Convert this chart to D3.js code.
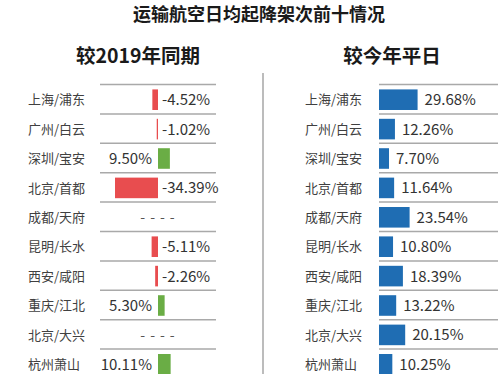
<!DOCTYPE html>
<html lang="zh">
<head>
<meta charset="utf-8">
<script src="https://d3js.org/d3.v7.min.js"></script>
<style>
  body { margin: 0; background: #fff; }
  text { font-family: "Noto Sans CJK SC", "Noto Sans", sans-serif; }
</style>
</head>
<body>
<script>
// data
var airports = ["上海/浦东", "广州/白云", "深圳/宝安", "北京/首都", "成都/天府",
                "昆明/长水", "西安/咸阳", "重庆/江北", "北京/大兴", "杭州萧山"];
var vs2019 = [-4.52, -1.02, 9.50, -34.39, null, -5.11, -2.26, 5.30, null, 10.11];
var vsAvg = [29.68, 12.26, 7.70, 11.64, 23.54, 10.80, 18.39, 13.22, 20.15, 10.25];

var title = "运输航空日均起降架次前十情况";
var leftTitle = "较2019年同期";
var rightTitle = "较今年平日";

var W = 500, H = 374;
var svg = d3.select("body").append("svg")
    .attr("width", W)
    .attr("height", H);

// rows
var y = d3.scaleBand()
    .domain(airports)
    .range([85, 85 + 29.4 * airports.length])
    .paddingInner(0.3)
    .paddingOuter(0.15);
var rowStep = y.step();
function rowTop(d) { return y(d) - y.paddingInner() * rowStep / 2 - 0.5; }

// titles
svg.append("text")
    .attr("x", 259).attr("y", 21)
    .attr("text-anchor", "middle")
    .style("font-size", "18px").style("font-weight", "bold").style("fill", "#1a1a1a")
    .text(title);
svg.append("text")
    .attr("x", 138).attr("y", 63)
    .attr("text-anchor", "middle")
    .style("font-size", "19.5px").style("font-weight", "bold").style("fill", "#1a1a1a")
    .text(leftTitle);
svg.append("text")
    .attr("x", 392).attr("y", 63)
    .attr("text-anchor", "middle")
    .style("font-size", "19.5px").style("font-weight", "bold").style("fill", "#1a1a1a")
    .text(rightTitle);

// divider
svg.append("line")
    .attr("x1", 263).attr("x2", 263)
    .attr("y1", 73).attr("y2", H)
    .style("stroke", "#a6a6a6").style("stroke-width", 1.5);

// ---------- left panel ----------
var xl = d3.scaleLinear().domain([-35, 12]).range([158 - 35 * 1.25, 158 + 12 * 1.25]);
var left = svg.append("g");

left.selectAll(".sep")
    .data(airports).enter()
    .append("line")
    .attr("x1", 100).attr("x2", 216)
    .attr("y1", rowTop).attr("y2", rowTop)
    .style("stroke", "#a9a9a9").style("stroke-width", 1.5);

left.selectAll(".name")
    .data(airports).enter()
    .append("text")
    .attr("x", 28)
    .attr("y", function (d) { return y(d) + y.bandwidth() / 2; })
    .attr("dy", "0.36em")
    .style("font-size", "13px").style("fill", "#404040")
    .text(function (d) { return d; });

var leftData = airports.map(function (a, i) { return { name: a, v: vs2019[i] }; });

left.selectAll(".bar")
    .data(leftData.filter(function (d) { return d.v !== null; })).enter()
    .append("rect")
    .attr("x", function (d) { return Math.min(xl(0), xl(d.v)); })
    .attr("y", function (d) { return y(d.name); })
    .attr("width", function (d) { return Math.max(1, Math.abs(xl(d.v) - xl(0))); })
    .attr("height", y.bandwidth())
    .style("fill", function (d) { return d.v < 0 ? "#e84d4f" : "#6aad45"; });

left.selectAll(".val")
    .data(leftData).enter()
    .append("text")
    .attr("x", function (d) {
        if (d.v === null) return xl(0) + 2;
        return d.v < 0 ? xl(0) + 4 : xl(0) - 6;
    })
    .attr("y", function (d) { return y(d.name) + y.bandwidth() / 2; })
    .attr("dy", "0.36em")
    .attr("text-anchor", function (d) {
        if (d.v === null) return "middle";
        return d.v < 0 ? "start" : "end";
    })
    .style("font-size", function (d) { return d.v === null ? "14px" : "15px"; })
    .style("letter-spacing", function (d) { return d.v === null ? "5px" : null; })
    .style("fill", function (d) { return d.v === null ? "#555" : "#333"; })
    .text(function (d) { return d.v === null ? "----" : d.v.toFixed(2) + "%"; });

// ---------- right panel ----------
var xr = d3.scaleLinear().domain([0, 30]).range([379, 379 + 30 * 1.3]);
var right = svg.append("g");

right.selectAll(".sep")
    .data(airports).enter()
    .append("line")
    .attr("x1", 379).attr("x2", 498)
    .attr("y1", rowTop).attr("y2", rowTop)
    .style("stroke", "#a9a9a9").style("stroke-width", 1.5);

right.selectAll(".name")
    .data(airports).enter()
    .append("text")
    .attr("x", 305)
    .attr("y", function (d) { return y(d) + y.bandwidth() / 2; })
    .attr("dy", "0.36em")
    .style("font-size", "13px").style("fill", "#404040")
    .text(function (d) { return d; });

var rightData = airports.map(function (a, i) { return { name: a, v: vsAvg[i] }; });

right.selectAll(".bar")
    .data(rightData).enter()
    .append("rect")
    .attr("x", xr(0))
    .attr("y", function (d) { return y(d.name); })
    .attr("width", function (d) { return xr(d.v) - xr(0); })
    .attr("height", y.bandwidth())
    .style("fill", "#1f6db3");

right.selectAll(".val")
    .data(rightData).enter()
    .append("text")
    .attr("x", function (d) { return xr(d.v) + 7; })
    .attr("y", function (d) { return y(d.name) + y.bandwidth() / 2; })
    .attr("dy", "0.36em")
    .style("font-size", "15px").style("fill", "#333")
    .text(function (d) { return d.v.toFixed(2) + "%"; });
</script>
</body>
</html>
